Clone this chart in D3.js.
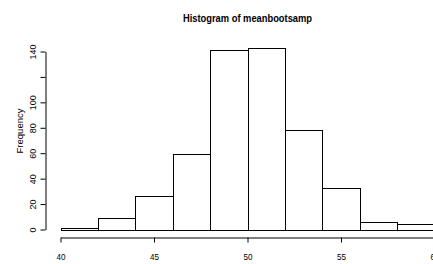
<!DOCTYPE html>
<html>
<head>
<meta charset="utf-8">
<script src="https://cdn.jsdelivr.net/npm/d3@7"></script>
<style>
  body { margin: 0; background: #fff; }
  svg { display: block; font-family: "Liberation Sans", Arial, sans-serif; }
</style>
</head>
<body>
<svg id="chart" width="433" height="264"></svg>
<script>
var breaks = [40, 42, 44, 46, 48, 50, 52, 54, 56, 58, 60];
var counts = [1, 9, 26, 59, 141, 143, 78, 33, 6, 4];
var xTicks = [40, 45, 50, 55, 60];
var yTicks = [0, 20, 40, 60, 80, 100, 120, 140];
// R drops the 120 label since it would overlap its neighbours
var yLabels = ['0', '20', '40', '60', '80', '100', '', '140'];
var title = 'Histogram of meanbootsamp';
var ylab = 'Frequency';

// the original png looks squeezed sideways, so horizontal text gets narrowed
var squeeze = 0.85;

var bins = counts.map(function(c, i) {
   return { x0: breaks[i], x1: breaks[i + 1], n: c };
});

var svg = d3.select('#chart');

var x = d3.scaleLinear().domain([40, 60]).range([60.5, 434.5]);
var y = d3.scaleLinear().domain([0, 140]).range([229.5, 51.5]);

svg.append('g')
   .attr('class', 'bars')
   .selectAll('rect')
   .data(bins)
   .enter()
   .append('rect')
   .attr('x', function(d) { return Math.round(x(d.x0)) + 0.5; })
   .attr('width', function(d) { return Math.round(x(d.x1)) - Math.round(x(d.x0)); })
   .attr('y', function(d) { return Math.round(y(d.n)) + 0.5; })
   .attr('height', function(d) { return Math.round(y(0)) - Math.round(y(d.n)); })
   .style('fill', '#fff')
   .style('stroke', '#000')
   .style('stroke-width', 1);

// x axis
var gx = svg.append('g')
   .attr('transform', 'translate(0,237.5)')
   .call(d3.axisBottom(x).tickValues(xTicks).tickSize(5).tickSizeOuter(0));

gx.selectAll('text')
   .attr('y', 22.5)
   .attr('dy', 0)
   .attr('transform', 'scale(' + squeeze + ',1)')
   .style('font-size', '9.5px')
   .style('fill', '#000');

// y axis, labels turned like R's las=0
var gy = svg.append('g')
   .attr('transform', 'translate(45.5,0)')
   .call(d3.axisLeft(y)
      .tickValues(yTicks)
      .tickFormat(function(d, i) { return yLabels[i]; })
      .tickSize(5)
      .tickSizeOuter(0));

gy.selectAll('text')
   .attr('transform', 'rotate(-90)')
   .attr('x', 0)
   .attr('y', -10)
   .attr('dy', 0)
   .style('text-anchor', 'middle')
   .style('font-size', '9px')
   .style('fill', '#000');

svg.selectAll('.domain, .tick line').style('stroke', '#000');
gx.attr('font-family', null);
gy.attr('font-family', null);

svg.append('text')
   .attr('transform', 'translate(22.5,131) rotate(-90)')
   .style('text-anchor', 'middle')
   .style('font-size', '9.5px')
   .text(ylab);

svg.append('text')
   .attr('transform', 'translate(247.5,21.5) scale(' + squeeze + ',1)')
   .style('text-anchor', 'middle')
   .style('font-size', '11px')
   .style('font-weight', 'bold')
   .text(title);
</script>
</body>
</html>
